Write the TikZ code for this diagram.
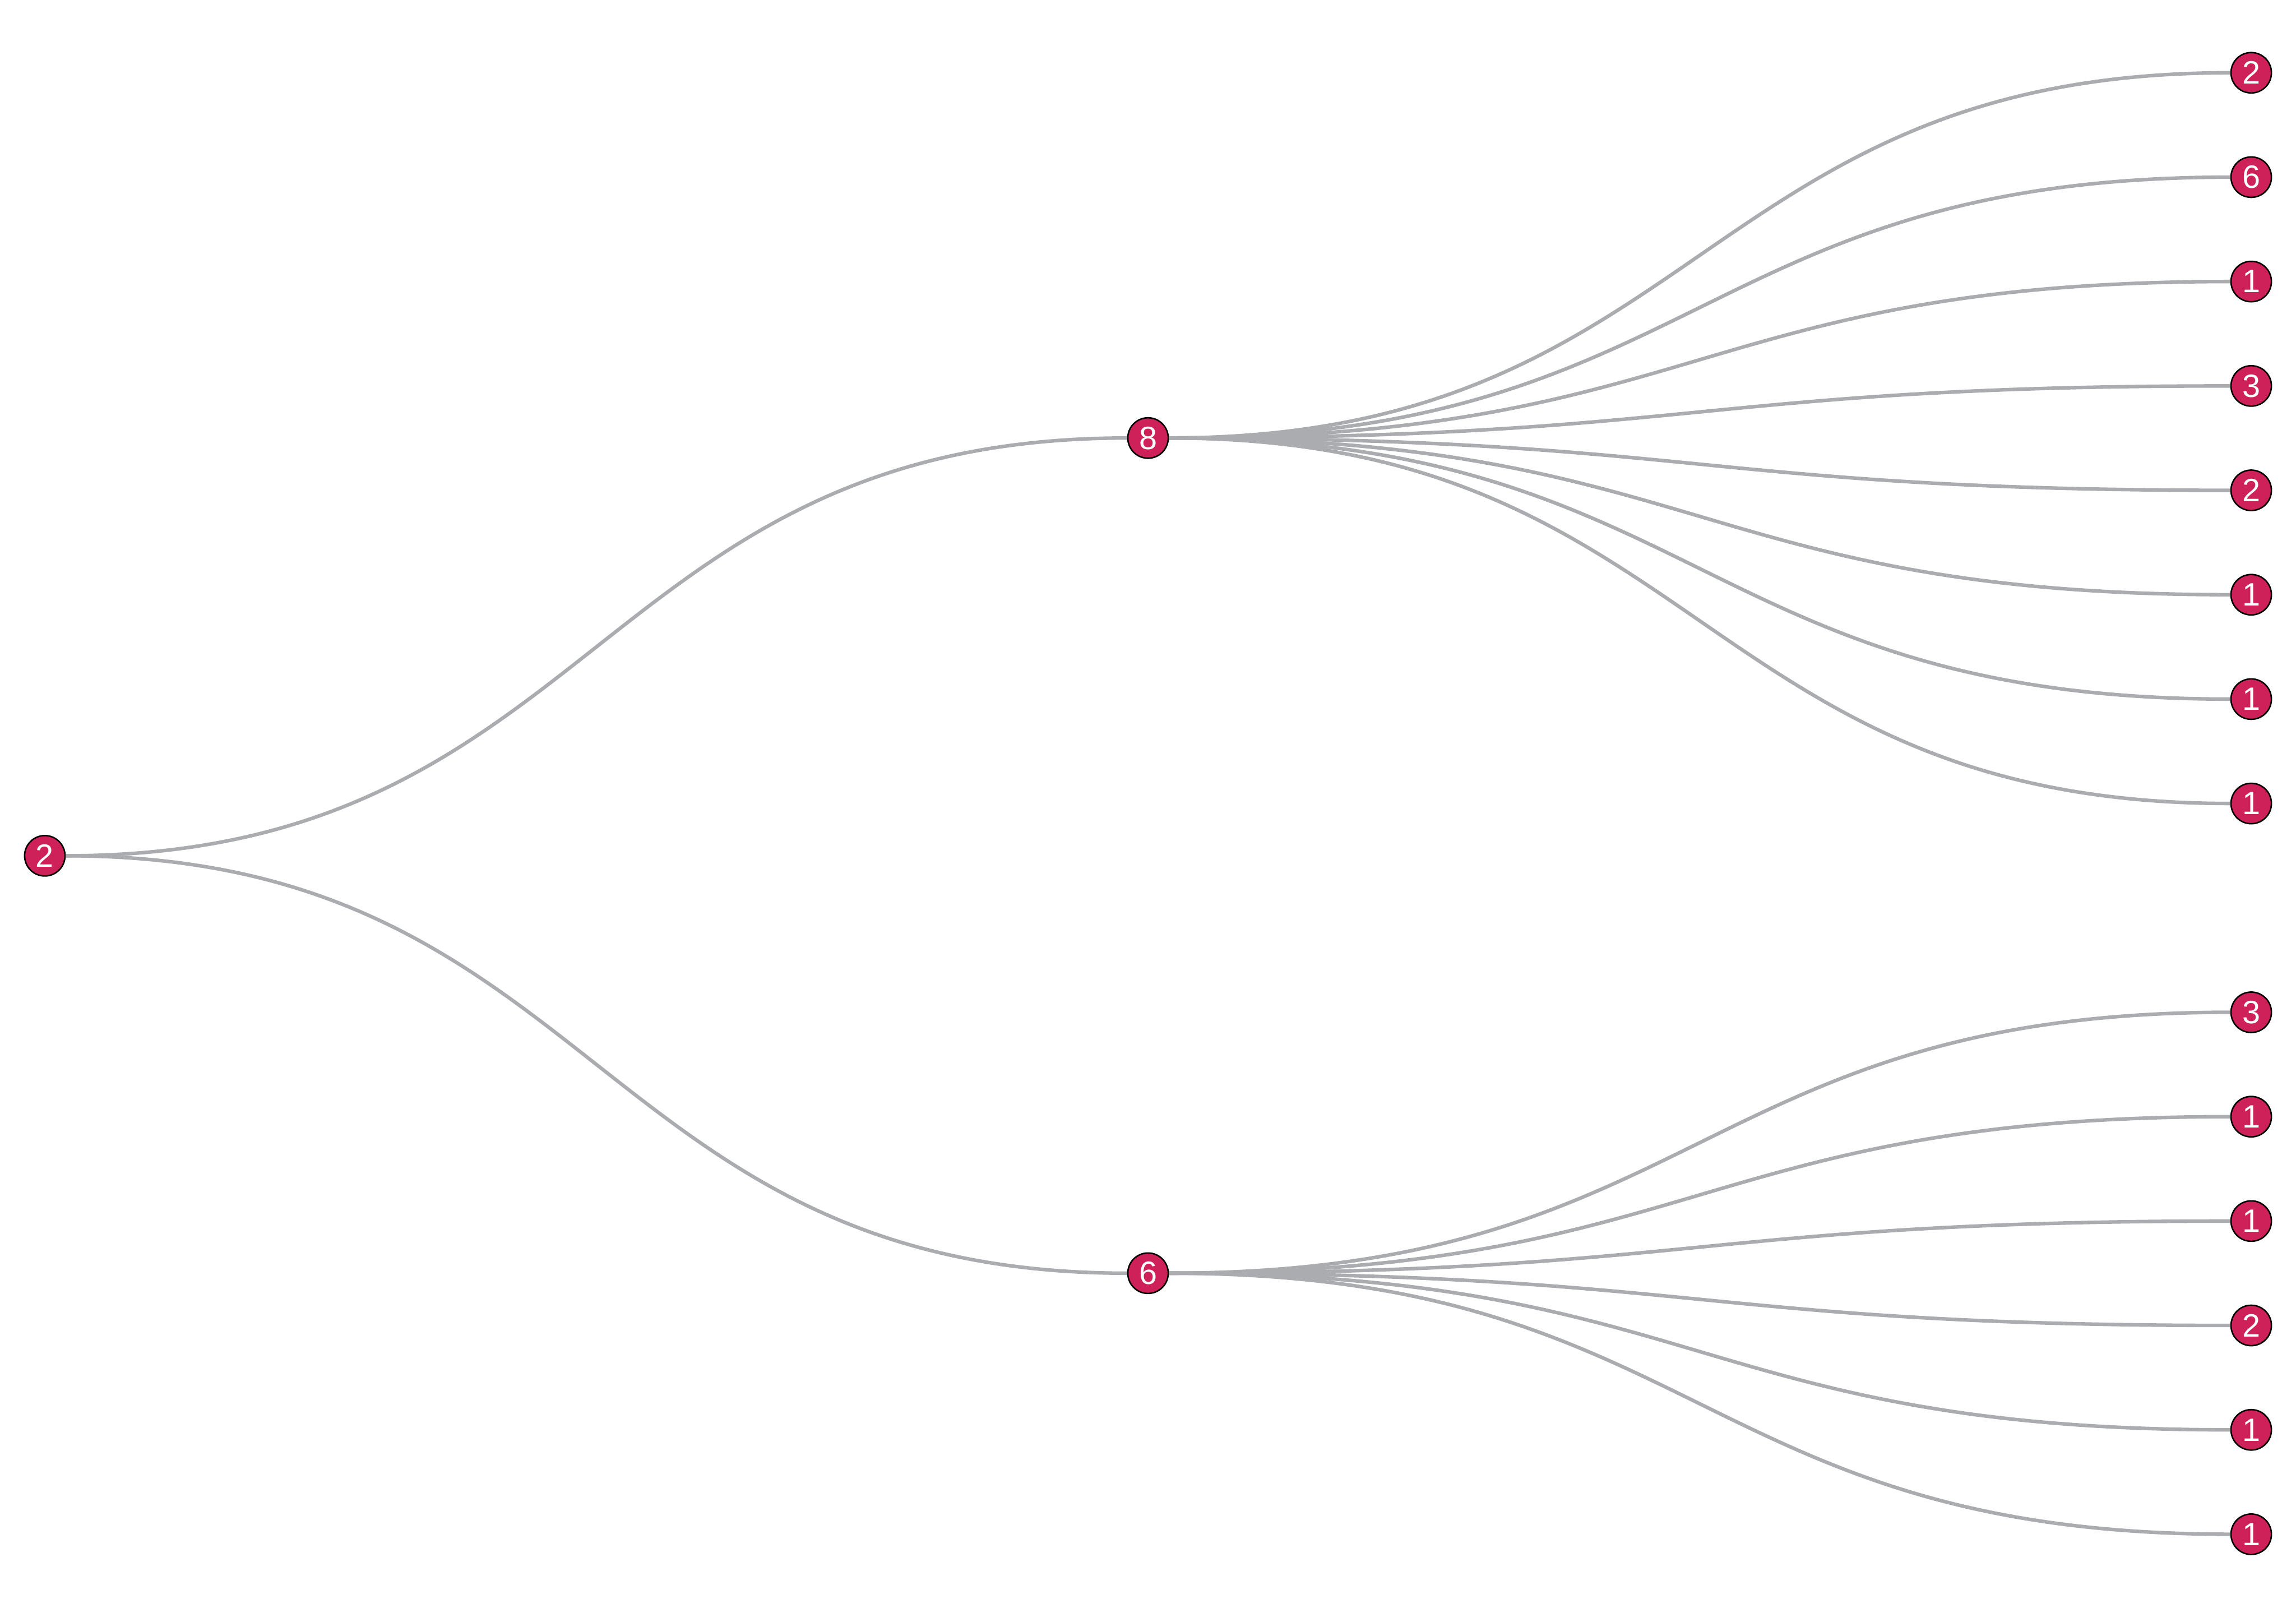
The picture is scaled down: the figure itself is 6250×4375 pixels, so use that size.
\documentclass[tikz,border=0pt]{standalone}
\usepackage{fontspec}
\setmainfont{Liberation Sans}
\usetikzlibrary{positioning}
\definecolor{nodered}{RGB}{206,32,89}
\definecolor{linkgray}{RGB}{170,172,175}

\begin{document}
\begin{tikzpicture}[x=0.004cm, y=-0.004cm,
  dot/.style={circle, draw=black, fill=nodered, line width=0.45pt, minimum size=0.44cm, inner sep=0pt, text=white, font=\fontsize{10}{10}\selectfont},
  link/.style={draw=linkgray, line width=1.1pt}]
\useasboundingbox (0,0) rectangle (6250,4375);
% --- x of the bends, one per level
\coordinate (m1) at (1623.5,0);
\coordinate (m2) at (4626.5,0);
% --- root and middle level
\node[dot] (root) at (122,2329) {2};
\node[dot] (top) at (3125,1192) {8};
\node[dot] (bot) at (3125,3465) {6};
% --- leaves
\foreach \lab [count=\i] in {2,6,1,3,2,1,1,1}
  \node[dot] (top\i) at (6128,{198+(\i-1)*284.1}) {\lab};
\foreach \lab [count=\i] in {3,1,1,2,1,1}
  \node[dot] (bot\i) at (6128,{198+(\i+8)*284.1}) {\lab};
% --- links
\draw[link] (root) .. controls (root -| m1) and (top -| m1) .. (top);
\draw[link] (root) .. controls (root -| m1) and (bot -| m1) .. (bot);
\foreach \i in {1,...,8}
  \draw[link] (top) .. controls (top -| m2) and (top\i -| m2) .. (top\i);
\foreach \i in {1,...,6}
  \draw[link] (bot) .. controls (bot -| m2) and (bot\i -| m2) .. (bot\i);
\end{tikzpicture}
\end{document}
